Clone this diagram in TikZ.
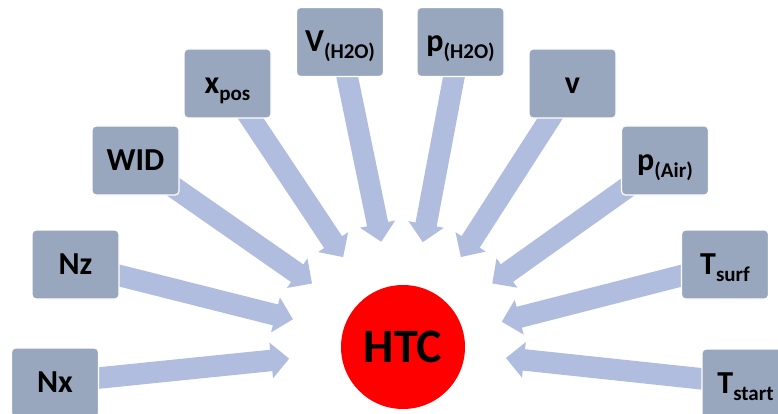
\documentclass[tikz,border=0pt]{standalone}
\usepackage{fontspec}
\setmainfont{Carlito}
\usetikzlibrary{calc,backgrounds}
\definecolor{boxfill}{RGB}{152,167,189}
\definecolor{arrfill}{RGB}{176,189,222}
\newcommand\sbx[1]{\raisebox{-7pt}{\fontsize{21}{21}\selectfont #1}}
% block arrow from box #1 towards htc, tip at distance #2 pt from htc centre
\newcommand\blockarrow[2]{%
  \coordinate (#1-t) at ($(htc.center)!#2pt!(#1.center)$);
  \coordinate (#1-b) at ($(#1-t)!18pt!(#1.center)$);
  \fill[arrowfill]
    ($(#1.center)!10.75pt!90:(#1-t)$) --
    ($(#1-b)!10.75pt!90:(#1-t)$) --
    ($(#1-b)!18pt!90:(#1-t)$) --
    (#1-t) --
    ($(#1-b)!18pt!-90:(#1-t)$) --
    ($(#1-b)!10.75pt!-90:(#1-t)$) --
    ($(#1.center)!10.75pt!-90:(#1-t)$) -- cycle;}
\begin{document}
\begin{tikzpicture}[x=1pt,y=-1pt,
  box/.style={rectangle, rounded corners=4pt, fill=boxfill, draw=white,
    line width=1.2pt, minimum width=87pt, minimum height=69pt, inner sep=0pt,
    text height=20pt, text depth=0pt,
    font={\fontsize{32}{32}\selectfont\bfseries}},
  hub/.style={circle, fill=red, minimum size=124pt, inner sep=0pt,
    font={\fontsize{48}{48}\selectfont\bfseries}},
  arrowfill/.style={fill=arrfill}]
\useasboundingbox (0,0) rectangle (778,414);
\clip (0,0) rectangle (778,414);
\node[hub] (htc) at (403,347) {HTC};
\node[box] (nx)     at (55,382.5)   {Nx};
\node[box] (nz)     at (75.5,264.5) {Nz};
\node[box] (wid)    at (135.5,160.5) {WID};
\node[box] (xpos)   at (227.5,83.5) {x\sbx{pos}};
\node[box] (vh2o)   at (340,42)     {V\sbx{(H2O)}};
\node[box] (ph2o)   at (460.5,42)   {p\sbx{(H2O)}};
\node[box] (v)      at (572.5,83.5) {v};
\node[box] (pair)   at (665,160.5)  {p\sbx{(Air)}};
\node[box] (tsurf)  at (725,264.5)  {T\sbx{surf}};
\node[box] (tstart) at (745.5,383.5) {T\sbx{start}};
\begin{scope}[on background layer]
  \blockarrow{nx}{114.5}
  \blockarrow{nz}{113.5}
  \blockarrow{wid}{111}
  \blockarrow{xpos}{108}
  \blockarrow{vh2o}{107.5}
  \blockarrow{ph2o}{106.7}
  \blockarrow{v}{107}
  \blockarrow{pair}{109.6}
  \blockarrow{tsurf}{102}
  \blockarrow{tstart}{103.6}
\end{scope}
\end{tikzpicture}
\end{document}
